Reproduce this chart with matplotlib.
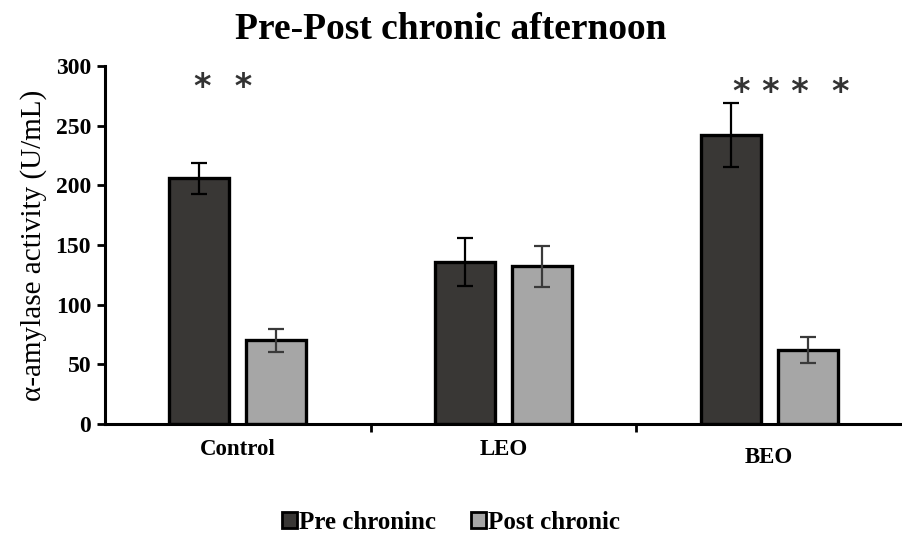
import matplotlib
matplotlib.use("Agg")
import matplotlib.pyplot as plt
import numpy as np
from matplotlib.patches import Patch
from matplotlib.transforms import ScaledTranslation

plt.rcParams['font.family'] = ['Liberation Serif', 'DejaVu Serif']

categories = ["Control", "LEO", "BEO"]
pre_values = [206, 136, 242]
pre_errors = [13, 20, 27]
post_values = [70, 132, 62]
post_errors = [10, 17, 11]
significance = ["*  *", "", "* * *  *"]
series_labels = ["Pre chroninc", "Post chronic"]
y_ticks = [0, 50, 100, 150, 200, 250, 300]

pre_color = "#393735"
post_color = "#a6a6a6"

fig = plt.figure(figsize=(9.02, 5.33), dpi=100)
ax = fig.add_axes([0.1164, 0.2045, 0.8836, 0.6717])

x = np.arange(len(categories))
width = 0.226
offset = 0.145

ax.bar(x - offset, pre_values, width, color=pre_color, edgecolor="black",
       linewidth=2.4, zorder=2)
ax.bar(x + offset, post_values, width, color=post_color, edgecolor="black",
       linewidth=2.4, zorder=2)
ax.errorbar(x - offset, pre_values, yerr=pre_errors, fmt="none", ecolor="black",
            elinewidth=1.6, capsize=6, capthick=1.6, zorder=3)
ax.errorbar(x + offset, post_values, yerr=post_errors, fmt="none", ecolor="#3a3a3a",
            elinewidth=1.6, capsize=6, capthick=1.6, zorder=3)

# significance stars above the pre/post pairs
star_dx = [-0.056, 0.0, 0.083]
star_y = [282, 0, 278]
for xi, s, dx, sy in zip(x, significance, star_dx, star_y):
    if s:
        ax.text(xi + dx, sy, s, ha="center", va="center",
                fontsize=24, fontweight="bold", color="#333333",
                family="DejaVu Sans")

ax.set_xlim(-0.5, 2.5)
ax.set_ylim(0, 300)
ax.set_yticks(y_ticks)
ax.set_yticklabels([str(t) for t in y_ticks], fontsize=17, fontweight="bold")
ax.set_xticks(x)
ax.set_xticklabels(categories, fontsize=16.5, fontweight="bold")
ax.tick_params(axis="x", which="major", length=0, pad=11)
ax.set_xticks([0.5, 1.5], minor=True)
ax.tick_params(axis="x", which="minor", length=6, width=2, direction="out")
ax.tick_params(axis="y", length=6, width=2, direction="out", pad=4)
# BEO label sits a little lower
lbl = ax.get_xticklabels()[2]
lbl.set_transform(lbl.get_transform() + ScaledTranslation(0, -8 / 100, fig.dpi_scale_trans))

for side in ["top", "right"]:
    ax.spines[side].set_visible(False)
for side in ["left", "bottom"]:
    ax.spines[side].set_linewidth(2.2)

ax.set_ylabel("α-amylase activity (U/mL)", fontsize=21, labelpad=6)
fig.text(0.5, 0.945, "Pre-Post chronic afternoon", ha="center", va="center",
         fontsize=27, fontweight="bold")

handles = [Patch(facecolor=pre_color, edgecolor="black", linewidth=2),
           Patch(facecolor=post_color, edgecolor="black", linewidth=2)]
fig.legend(handles, series_labels, loc="center", bbox_to_anchor=(0.5, 0.02),
           ncol=2, frameon=False, prop={"weight": "bold", "size": 18},
           handlelength=0.6, handleheight=0.6, handletextpad=0.1, columnspacing=1.4)

fig.savefig("out.png", dpi=100)
